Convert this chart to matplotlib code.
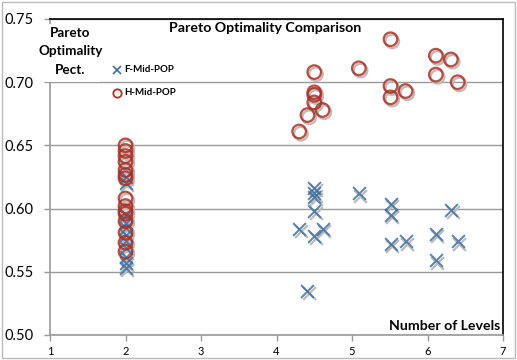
import matplotlib
matplotlib.use("Agg")
import matplotlib.pyplot as plt
from matplotlib.patches import Rectangle
from matplotlib.transforms import offset_copy

plt.rcParams['font.family'] = ['Lato', 'DejaVu Sans']

# F-Mid-POP (crosses)
f_x = [2]*11 + [4.5, 4.5, 4.5, 4.5, 4.3, 4.5, 4.61, 5.09, 5.51, 5.51, 5.51, 5.71,
                6.11, 6.11, 6.31, 6.40, 4.41]
f_y = [0.625, 0.620, 0.595, 0.589, 0.585, 0.579, 0.574, 0.569, 0.562, 0.557, 0.553,
       0.616, 0.612, 0.609, 0.598, 0.584, 0.578, 0.584, 0.612, 0.604, 0.595, 0.572, 0.574,
       0.580, 0.559, 0.599, 0.574, 0.535]

# H-Mid-POP (circles)
h_x = [2]*15 + [4.30, 4.41, 4.5, 4.5, 4.5, 4.5, 4.61, 5.09, 5.51, 5.51, 5.51, 5.71,
                6.11, 6.11, 6.31, 6.40]
h_y = [0.650, 0.6456, 0.6416, 0.637, 0.6305, 0.6266, 0.624, 0.608, 0.602, 0.598,
       0.596, 0.590, 0.581, 0.573, 0.566,
       0.661, 0.674, 0.708, 0.692, 0.690, 0.684, 0.678, 0.711, 0.734, 0.697, 0.688,
       0.693, 0.721, 0.706, 0.718, 0.700]

x_ticks = [1, 2, 3, 4, 5, 6, 7]
y_ticks = [0.50, 0.55, 0.60, 0.65, 0.70, 0.75]

fig = plt.figure(figsize=(5.17, 3.6), dpi=100)
ax = fig.add_axes([50/517, 25/360, 453/517, 316/360])

red = '#A83227'
blue = '#3F6E9E'

# shadows
sh = offset_copy(ax.transData, fig=fig, x=1.2, y=-1.5, units='points')
ax.scatter(f_x, f_y, marker='x', s=85, color='#bbbbbb', linewidths=1.6, transform=sh, zorder=2)
ax.scatter(h_x, h_y, marker='o', s=95, facecolors='none', edgecolors='#c8b8b8',
           linewidths=1.8, transform=sh, zorder=2)

ax.scatter(f_x, f_y, marker='x', s=85, color=blue, linewidths=1.4, zorder=3, alpha=0.85)
ax.scatter(h_x, h_y, marker='o', s=95, facecolors='none', edgecolors=red,
           linewidths=1.6, zorder=4, alpha=0.85)

ax.set_xlim(1, 7)
ax.set_ylim(0.50, 0.75)
ax.set_xticks(x_ticks)
ax.set_xticklabels([str(v) for v in x_ticks], fontsize=8)
ax.set_yticks(y_ticks)
ax.set_yticklabels([f"{v:.2f}" for v in y_ticks], fontsize=10.5)
ax.yaxis.grid(True, color='#999999', linewidth=1)
ax.set_axisbelow(True)
ax.tick_params(axis='both', color='#999999', length=4, width=1)
ax.tick_params(axis='y', pad=8)
ax.tick_params(axis='x', pad=4)

for s in ['left', 'bottom']:
    ax.spines[s].set_color('#999999')
    ax.spines[s].set_linewidth(1.2)
for s in ['top', 'right']:
    ax.spines[s].set_color('black')
    ax.spines[s].set_linewidth(1.2)

ax.text(0.475, 0.97, 'Pareto Optimality Comparison', transform=ax.transAxes,
        ha='center', va='center', fontsize=10.2, fontweight='bold')
ax.add_patch(Rectangle((-0.03, 0.80), 0.14, 0.185, transform=ax.transAxes,
                       facecolor='white', edgecolor='none', zorder=5, clip_on=False))
for txt, yy in [('Pareto', 0.956), ('Optimality', 0.899), ('Pect.', 0.839)]:
    ax.text(0.045, yy, txt, transform=ax.transAxes, ha='center', va='center',
            fontsize=9.7, fontweight='bold', zorder=6)
ax.text(0.995, 0.008, 'Number of Levels', transform=ax.transAxes,
        ha='right', va='bottom', fontsize=10.2, fontweight='bold')

# legend
lx, ly1, ly2 = 1.89, 0.7097, 0.6915
ax.plot([lx], [ly1], marker='x', color=blue, markersize=6, mew=1.2, linestyle='none')
ax.plot([lx], [ly2], marker='o', markerfacecolor='none', markeredgecolor=red,
        markersize=6, mew=1.3, linestyle='none')
ax.text(lx + 0.09, ly1, 'F-Mid-POP', fontsize=7, fontweight='bold', va='center')
ax.text(lx + 0.09, ly2, 'H-Mid-POP', fontsize=7, fontweight='bold', va='center')

fig.patches.append(Rectangle((2/517, 2/360), 513/517, 356/360, transform=fig.transFigure,
                             fill=False, edgecolor='#bbbbbb', linewidth=1))

fig.savefig('out.png', dpi=100)
